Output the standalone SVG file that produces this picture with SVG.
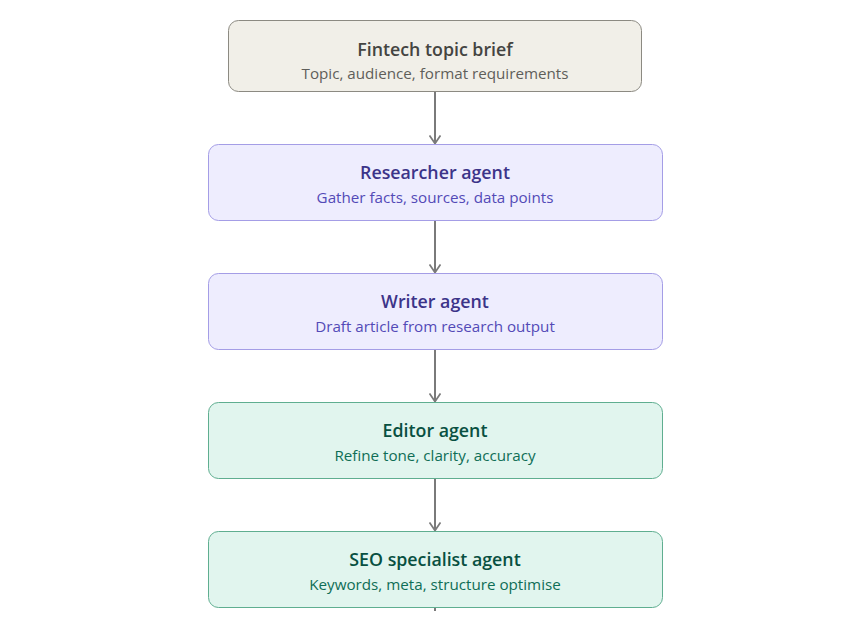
<svg xmlns="http://www.w3.org/2000/svg" width="864" height="636" viewBox="0 0 864 636">
<style>
text{font-family:"Open Sans","Noto Sans","Liberation Sans",sans-serif;text-anchor:middle}
.t{font-size:17.8px;font-weight:600}
.s{font-size:15.2px}
.gray rect{fill:#f1efe8;stroke:#8c8a82;stroke-width:1}
.gray .t{fill:#444441}.gray .s{fill:#5f5e5a}
.pur rect{fill:#eeedfe;stroke:#a49de6;stroke-width:1}
.pur .t{fill:#3c3489}.pur .s{fill:#534ab7}
.grn rect{fill:#e1f5ee;stroke:#5fae90;stroke-width:1}
.grn .t{fill:#085041}.grn .s{fill:#0f6e56}
.c line{stroke:#7a7a7a;stroke-width:2;fill:none}
</style>
<defs>
<marker id="ah" viewBox="0 0 12 12" refX="11" refY="6" markerWidth="12" markerHeight="12" orient="auto" markerUnits="userSpaceOnUse">
<path d="M3,0.5 L11,6 L3,11.5" fill="none" stroke="#7a7a7a" stroke-width="1.8"/>
</marker>
</defs>
<rect width="864" height="636" fill="#fff"/>
<g class="c">
<line x1="435" y1="92" x2="435" y2="143.5" marker-end="url(#ah)"/>
<line x1="435" y1="220" x2="435" y2="272.5" marker-end="url(#ah)"/>
<line x1="435" y1="349" x2="435" y2="401.5" marker-end="url(#ah)"/>
<line x1="435" y1="478" x2="435" y2="530.5" marker-end="url(#ah)"/>
<line x1="435" y1="607" x2="435" y2="611"/>
</g>
<g id="brief" class="gray">
<rect x="228.5" y="20.5" width="413" height="71" rx="10"/>
<text class="t" x="435" y="56">Fintech topic brief</text>
<text class="s" x="435" y="79">Topic, audience, format requirements</text>
</g>
<g id="researcher" class="pur">
<rect x="208.5" y="144.5" width="454" height="76" rx="10"/>
<text class="t" x="435" y="179">Researcher agent</text>
<text class="s" x="435" y="203">Gather facts, sources, data points</text>
</g>
<g id="writer" class="pur">
<rect x="208.5" y="273.5" width="454" height="76" rx="10"/>
<text class="t" x="435" y="308">Writer agent</text>
<text class="s" x="435" y="332">Draft article from research output</text>
</g>
<g id="editor" class="grn">
<rect x="208.5" y="402.5" width="454" height="76" rx="10"/>
<text class="t" x="435" y="437">Editor agent</text>
<text class="s" x="435" y="461">Refine tone, clarity, accuracy</text>
</g>
<g id="seo" class="grn">
<rect x="208.5" y="531.5" width="454" height="76" rx="10"/>
<text class="t" x="435" y="566">SEO specialist agent</text>
<text class="s" x="435" y="590">Keywords, meta, structure optimise</text>
</g>
</svg>
